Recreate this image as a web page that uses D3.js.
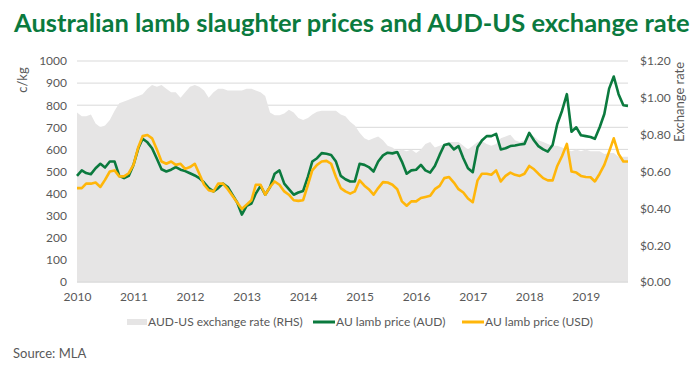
<!DOCTYPE html>
<html>
<head>
<meta charset="utf-8">
<script src="https://cdn.jsdelivr.net/npm/d3@7"></script>
<style>
  body { margin: 0; background: #fff; }
  text { font-family: Lato, "Open Sans", sans-serif; }
</style>
</head>
<body>
<div class="canvas"></div>
<script>
// monthly readings, Jan 2010 to Oct 2019
const months = d3.timeMonth.range(new Date(2010, 0, 1), new Date(2019, 10, 1));

// AU lamb price in AUD, c/kg
const lambAUD = [
  480, 505, 493, 488, 515, 535, 518, 545, 545, 480, 470, 480,
  530, 605, 648, 632, 605, 558, 510, 500, 508, 520, 508, 502,
  492, 482, 470, 450, 425, 410, 425, 445, 430, 395, 360, 305,
  345, 355, 400, 435, 395, 430, 490, 505, 445, 420, 395, 405,
  412, 477, 545, 560, 583, 580, 575, 545, 480, 465, 455, 455,
  535, 530, 520, 500, 545, 573, 585, 582, 588, 545, 490, 505,
  508, 530, 505, 495, 525, 575, 620, 625, 600, 615, 560, 515,
  497, 610, 640, 660, 660, 670, 600, 605, 615, 618, 622, 625,
  675, 640, 615, 600, 590, 620, 715, 775, 850, 680, 700, 664,
  660, 656, 648, 700, 760, 875, 930, 850, 800, 797
];

// AU lamb price in USD, c/kg
const lambUSD = [
  425, 425, 445, 445, 450, 430, 462, 500, 505, 478, 478, 492,
  530, 610, 660, 665, 650, 600, 545, 535, 545, 530, 535, 512,
  520, 535, 490, 440, 415, 410, 445, 445, 420, 390, 360, 330,
  350, 370, 440, 440, 395, 430, 455, 440, 410, 395, 370, 367,
  370, 440, 505, 530, 545, 548, 535, 475, 425, 410, 400, 410,
  460, 436, 420, 395, 425, 452, 450, 440, 420, 365, 345, 365,
  365, 380, 385, 390, 420, 435, 470, 475, 450, 420, 405, 378,
  361, 460, 490, 490, 485, 505, 455, 480, 495, 485, 480, 490,
  525, 510, 490, 470, 460, 460, 525, 570, 625, 500, 495, 480,
  475, 474, 455, 490, 530, 590, 650, 580, 545, 545
];

// AUD-US exchange rate (RHS)
const exchRate = [
  0.92, 0.90, 0.90, 0.91, 0.86, 0.84, 0.85, 0.88, 0.93, 0.97, 0.98, 0.99,
  1.00, 1.01, 1.02, 1.05, 1.07, 1.06, 1.07, 1.05, 1.03, 1.03, 1.00, 1.03,
  1.06, 1.07, 1.06, 1.04, 1.00, 1.03, 1.05, 1.05, 1.04, 1.04, 1.04, 1.04,
  1.05, 1.05, 1.04, 1.03, 1.01, 0.92, 0.905, 0.905, 0.915, 0.935, 0.92, 0.89,
  0.88, 0.89, 0.91, 0.925, 0.93, 0.93, 0.93, 0.93, 0.91, 0.90, 0.87, 0.85,
  0.81, 0.78, 0.77, 0.78, 0.79, 0.77, 0.74, 0.73, 0.71, 0.72, 0.71, 0.72,
  0.70, 0.72, 0.75, 0.76, 0.73, 0.74, 0.75, 0.76, 0.76, 0.76, 0.74, 0.72,
  0.74, 0.76, 0.765, 0.75, 0.74, 0.75, 0.78, 0.79, 0.80, 0.77, 0.76, 0.77,
  0.80, 0.79, 0.77, 0.76, 0.75, 0.74, 0.74, 0.73, 0.72, 0.71, 0.72, 0.71,
  0.72, 0.71, 0.71, 0.71, 0.695, 0.70, 0.70, 0.68, 0.68, 0.68
];

const years = d3.range(2010, 2020);
const leftTicks = d3.range(0, 1001, 100);
const rightTicks = [0, 0.2, 0.4, 0.6, 0.8, 1.0, 1.2];
const legendLabels = ['AUD-US exchange rate (RHS)', 'AU lamb price (AUD)', 'AU lamb price (USD)'];

const green = '#0b7a3e';
const yellow = '#ffb60a';
const areaGrey = '#e6e5e5';
const textGrey = '#595959';

const width = 700, height = 373;
const margin = { top: 61, right: 72, bottom: 91, left: 77 };

const svg = d3.select('.canvas')
  .append('svg')
    .attr('width', width)
    .attr('height', height);

svg.append('rect').attr('width', width).attr('height', height).attr('fill', '#fff');

// title, shrunk to fit the width like the original
const title = svg.append('text')
  .attr('x', 14)
  .attr('y', 32)
  .attr('fill', green)
  .attr('font-weight', 'bold')
  .attr('font-size', 26)
  .text('Australian lamb slaughter prices and AUD-US exchange rate');
const tw = title.node().getComputedTextLength();
title.attr('font-size', 26 * 676 / tw);

const x = d3.scaleTime()
  .domain([new Date(2010, 0, 1), new Date(2019, 9, 1)])
  .range([margin.left, width - margin.right]);
const y = d3.scaleLinear().domain([0, 1000]).range([height - margin.bottom, margin.top]);
const yR = d3.scaleLinear().domain([0, 1.2]).range([height - margin.bottom, margin.top]);

// gridlines sit under the grey area
svg.append('g')
  .selectAll('line')
  .data(leftTicks)
  .enter().append('line')
    .attr('x1', margin.left)
    .attr('x2', width - margin.right)
    .attr('y1', d => y(d))
    .attr('y2', d => y(d))
    .attr('stroke', '#d9d9d9')
    .attr('stroke-width', 1);

const area = d3.area()
  .x((d, i) => x(months[i]))
  .y0(yR(0))
  .y1(d => yR(d));

svg.append('path')
  .datum(exchRate)
  .attr('fill', areaGrey)
  .attr('d', area);

const line = d3.line()
  .x((d, i) => x(months[i]))
  .y(d => y(d));

svg.append('path')
  .datum(lambAUD)
  .attr('fill', 'none')
  .attr('stroke', green)
  .attr('stroke-width', 2.6)
  .attr('stroke-linejoin', 'round')
  .attr('d', line);

svg.append('path')
  .datum(lambUSD)
  .attr('fill', 'none')
  .attr('stroke', yellow)
  .attr('stroke-width', 2.6)
  .attr('stroke-linejoin', 'round')
  .attr('d', line);

// baseline
svg.append('line')
  .attr('x1', margin.left)
  .attr('x2', width - margin.right)
  .attr('y1', y(0))
  .attr('y2', y(0))
  .attr('stroke', '#d9d9d9');

// axes
const yAxis = d3.axisLeft(y).tickValues(leftTicks).tickSize(0).tickPadding(10)
  .tickFormat(d3.format('d'));
const yAxisR = d3.axisRight(yR).tickValues(rightTicks).tickSize(0).tickPadding(12)
  .tickFormat(d => '$' + d3.format('.2f')(d));
const xAxis = d3.axisBottom(x)
  .tickValues(years.map(d => new Date(d, 0, 1)))
  .tickSize(0).tickPadding(10)
  .tickFormat(d3.timeFormat('%Y'));

const gl = svg.append('g').attr('transform', `translate(${margin.left},0)`).call(yAxis);
const gr = svg.append('g').attr('transform', `translate(${width - margin.right},0)`).call(yAxisR);
const gx = svg.append('g').attr('transform', `translate(0,${y(0)})`).call(xAxis);

[gl, gr, gx].forEach(g => {
  g.select('.domain').remove();
  g.selectAll('text')
    .attr('fill', textGrey)
    .attr('font-size', 12)
    .style('font-family', 'Lato, "Open Sans", sans-serif');
});

// axis titles
svg.append('text')
  .attr('transform', 'translate(27,80) rotate(-90)')
  .attr('text-anchor', 'middle')
  .attr('fill', textGrey)
  .attr('font-size', 13)
  .text('c/kg');

svg.append('text')
  .attr('transform', 'translate(684,102) rotate(-90)')
  .attr('text-anchor', 'middle')
  .attr('fill', textGrey)
  .attr('font-size', 13)
  .text('Exchange rate');

// legend
const legendX = [127, 313, 462];
const legend = svg.selectAll('.legend')
  .data(legendLabels)
  .enter().append('g')
    .attr('class', 'legend')
    .attr('transform', (d, i) => `translate(${legendX[i]}, 322)`);

legend.each(function(d, i) {
  const g = d3.select(this);
  if (i === 0) {
    g.append('rect').attr('x', 0).attr('y', -3).attr('width', 20).attr('height', 6).attr('fill', areaGrey);
  } else {
    g.append('line').attr('x1', 0).attr('x2', 22).attr('y1', 0).attr('y2', 0)
      .attr('stroke', i === 1 ? green : yellow).attr('stroke-width', 3);
  }
});

legend.append('text')
  .attr('x', (d, i) => i === 0 ? 21 : 23)
  .attr('y', 0)
  .attr('dy', '0.35em')
  .attr('fill', textGrey)
  .attr('font-size', 12)
  .text(d => d);

// source note
svg.append('text')
  .attr('x', 13)
  .attr('y', 358)
  .attr('fill', textGrey)
  .attr('font-size', 13)
  .text('Source: MLA');
</script>
</body>
</html>
